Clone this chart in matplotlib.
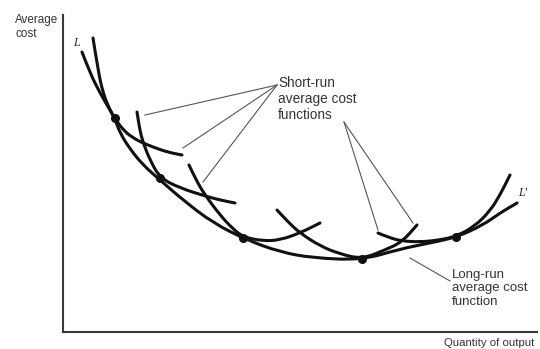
import matplotlib
matplotlib.use("Agg")
import matplotlib.pyplot as plt
from matplotlib.path import Path
from matplotlib.patches import PathPatch

# ---- curves (quantity, average cost) ----
lrac_q = [19, 27, 37, 47, 52, 57, 67, 80, 97, 120, 150, 184, 217, 250, 299, 337, 367, 394, 420, 437, 454]
lrac_c = [280, 259, 239, 222, 213, 199, 183, 167, 152, 132, 109, 92, 80, 74, 72, 83, 89, 95, 107, 119, 129]

srac1_q = [30, 35, 40, 46, 52, 62, 72, 80, 90, 104, 119]
srac1_c = [294, 262, 239, 224, 213, 200, 193, 189, 185, 180, 177]

srac2_q = [74, 76, 78, 81, 87, 97, 117, 142, 157, 172]
srac2_c = [220, 207, 197, 187, 172, 154, 144, 136, 132, 129]

srac3_q = [126, 133, 142, 157, 169, 180, 200, 217, 237, 257]
srac3_c = [167, 152, 137, 117, 104, 95, 91, 92, 99, 109]

srac4_q = [214, 225, 237, 257, 277, 299, 322, 339, 354]
srac4_c = [122, 110, 99, 86, 78, 73, 82, 90, 107]

srac5_q = [315, 327, 339, 357, 377, 394, 412, 427, 437, 447]
srac5_c = [99, 94, 91, 90, 92, 96, 106, 121, 137, 157]

tangent_q = [52, 97, 180, 299, 393]
tangent_c = [214, 154, 94, 73, 95]

srac_label = "Short-run\naverage cost\nfunctions"
lrac_label = "Long-run\naverage cost\nfunction"
x_label = "Quantity of output"
y_label = "Average\ncost"

# leader lines: label anchor -> curve
short_anchor_a = (214, 247)
short_targets_a = [(82, 217), (120, 184), (140, 150)]
short_anchor_b = (281, 210)
short_targets_b = [(315, 102), (350, 109)]
long_anchor = (387, 51)
long_target = (347, 74)


def smooth_path(xs, ys):
    pts = list(zip(xs, ys))
    verts = [pts[0]]
    codes = [Path.MOVETO]
    for i in range(1, len(pts) - 1):
        mid = ((pts[i][0] + pts[i + 1][0]) / 2, (pts[i][1] + pts[i + 1][1]) / 2)
        verts += [pts[i], mid]
        codes += [Path.CURVE3, Path.CURVE3]
    verts.append(pts[-1])
    codes.append(Path.LINETO)
    return Path(verts, codes)


fig = plt.figure(figsize=(5.4, 3.49), dpi=100)
ax = fig.add_axes([63 / 540, 17 / 349, 474 / 540, 317 / 349])
ax.set_xlim(0, 474)
ax.set_ylim(0, 317)
for s in ("top", "right"):
    ax.spines[s].set_visible(False)
for s in ("left", "bottom"):
    ax.spines[s].set_color("#3a3a3a")
    ax.spines[s].set_linewidth(1.5)
ax.set_xticks([])
ax.set_yticks([])

curve_kw = dict(facecolor="none", edgecolor="#111111", linewidth=2.2, capstyle="round", joinstyle="round")
for xs, ys in [(lrac_q, lrac_c), (srac1_q, srac1_c), (srac2_q, srac2_c),
               (srac3_q, srac3_c), (srac4_q, srac4_c), (srac5_q, srac5_c)]:
    ax.add_patch(PathPatch(smooth_path(xs, ys), **curve_kw))

ax.plot(tangent_q, tangent_c, "o", color="#111111", markersize=5.5, zorder=5)

lead_kw = dict(color="#555555", linewidth=0.8)
for t in short_targets_a:
    ax.plot([short_anchor_a[0], t[0]], [short_anchor_a[1], t[1]], **lead_kw)
for t in short_targets_b:
    ax.plot([short_anchor_b[0], t[0]], [short_anchor_b[1], t[1]], **lead_kw)
ax.plot([long_anchor[0], long_target[0]], [long_anchor[1], long_target[1]], **lead_kw)

txt_kw = dict(family="Liberation Sans", color="#333333")
ax.text(215, 256, srac_label, ha="left", va="top", fontsize=9.8, linespacing=1.2, **txt_kw)
ax.text(389, 63, lrac_label, ha="left", va="top", fontsize=9.5, linespacing=1.15, **txt_kw)
ax.text(471, -11, x_label, ha="right", va="center", fontsize=8.2, clip_on=False, **txt_kw)
ax.text(-48, 318, y_label, ha="left", va="top", fontsize=8.4, linespacing=1.25, clip_on=False, **txt_kw)
ax.text(13, 289, "L", ha="center", va="center", fontsize=8.5, style="italic",
        family="Liberation Serif", color="#222222")
ax.text(460, 139, "L\u2032", ha="center", va="center", fontsize=8.5, style="italic",
        family="Liberation Serif", color="#222222")

fig.savefig("out.png", dpi=100)
